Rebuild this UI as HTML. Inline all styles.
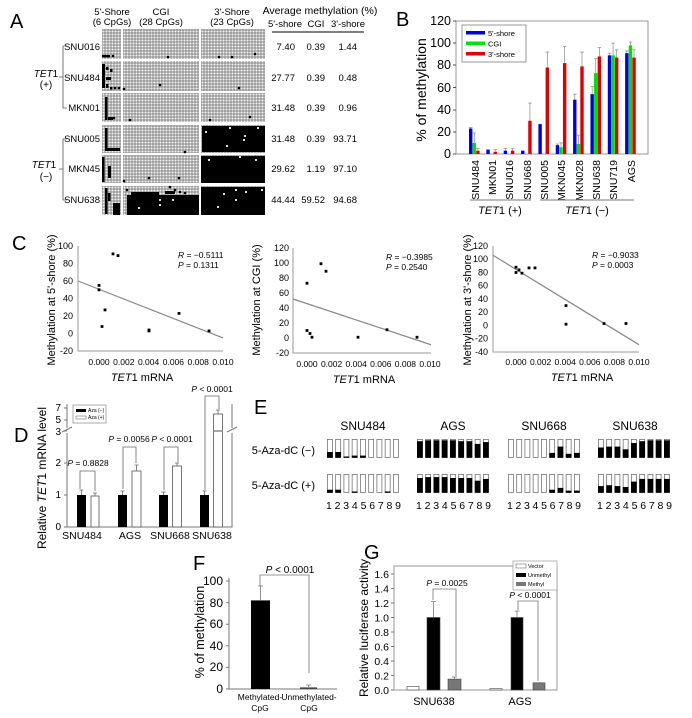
<!DOCTYPE html>
<html><head><meta charset="utf-8"><style>
html,body{margin:0;padding:0;background:#fff}
svg{display:block;font-family:"Liberation Sans",Arial,sans-serif}
</style></head><body>
<svg id="s" width="692" height="718" viewBox="0 0 692 718" xmlns="http://www.w3.org/2000/svg">
<defs>
<pattern id="pg" width="3" height="3" patternUnits="userSpaceOnUse"><rect width="3" height="3" fill="#9a9a9a"/><circle cx="1.5" cy="1.5" r="1.05" fill="#f2f2f2"/></pattern>
</defs>
<!-- ===== A ===== -->
<text x="10" y="28" font-size="20">A</text>
<g font-size="9.5" text-anchor="middle">
<text x="112" y="15">5'-Shore</text><text x="112" y="25">(6 CpGs)</text>
<text x="161" y="15">CGI</text><text x="161" y="25">(28 CpGs)</text>
<text x="232" y="15">3'-Shore</text><text x="232" y="25">(23 CpGs)</text>
<text x="320" y="14" font-size="10.5">Average methylation (%)</text>
<text x="285" y="27">5'-shore</text><text x="316" y="27">CGI</text><text x="348" y="27">3'-shore</text>
</g>
<line x1="272" y1="32" x2="364" y2="32" stroke="#000" stroke-width="1"/>
<g id="agrid"></g>
<g font-size="9.5" text-anchor="end">
<text x="100" y="50">SNU016</text><text x="100" y="81">SNU484</text><text x="100" y="111">MKN01</text>
<text x="100" y="142">SNU005</text><text x="100" y="172">MKN45</text><text x="100" y="203">SNU638</text>
</g>
<g stroke="#555" fill="none" stroke-width="0.8">
<path d="M67 46 H63 V108 H67 M63 77 H59"/>
<path d="M67 139 H63 V200 H67 M63 169 H59"/>
</g>
<g font-size="10" text-anchor="middle">
<text x="46" y="77"><tspan font-style="italic">TET</tspan>1</text><text x="46" y="88">(+)</text>
<text x="44" y="168"><tspan font-style="italic">TET</tspan>1</text><text x="46" y="180">(−)</text>
</g>
<g font-size="9.5" text-anchor="end">
<text x="295" y="50">7.40</text><text x="325" y="50">0.39</text><text x="357" y="50">1.44</text>
<text x="295" y="81">27.77</text><text x="325" y="81">0.39</text><text x="357" y="81">0.48</text>
<text x="295" y="111">31.48</text><text x="325" y="111">0.39</text><text x="357" y="111">0.96</text>
<text x="295" y="142">31.48</text><text x="325" y="142">0.39</text><text x="357" y="142">93.71</text>
<text x="295" y="172">29.62</text><text x="325" y="172">1.19</text><text x="357" y="172">97.10</text>
<text x="295" y="203">44.44</text><text x="325" y="203">59.52</text><text x="357" y="203">94.68</text>
</g>

<!-- ===== B ===== -->
<text x="396" y="26" font-size="20">B</text>
<rect x="456" y="21" width="192" height="133" fill="none" stroke="#999" stroke-width="1"/>
<g font-size="12.5" text-anchor="end">
<text x="451" y="158">0</text><text x="451" y="136">20</text><text x="451" y="114">40</text><text x="451" y="92">60</text><text x="451" y="69">80</text><text x="451" y="47">100</text><text x="451" y="25">120</text>
</g>
<g stroke="#555"><path d="M453 154H456M453 132H456M453 110H456M453 87.5H456M453 65H456M453 43H456M453 21H456"/></g>
<text transform="translate(426,90) rotate(-90)" font-size="14" text-anchor="middle">% of methylation</text>
<g id="bbars"></g>
<rect x="462" y="25" width="64" height="37" fill="#fff" stroke="#999"/>
<rect x="466" y="31" width="19" height="3.5" fill="#0000e0"/><rect x="466" y="41.5" width="19" height="3.5" fill="#00e000"/><rect x="466" y="52" width="19" height="3.5" fill="#e00000"/>
<g font-size="7.5"><text x="488" y="36">5'-shore</text><text x="488" y="46.5">CGI</text><text x="488" y="57">3'-shore</text></g>
<g font-size="10.5" text-anchor="end">
<text transform="translate(479,160) rotate(-90)">SNU484</text>
<text transform="translate(496,160) rotate(-90)">MKN01</text>
<text transform="translate(513,160) rotate(-90)">SNU016</text>
<text transform="translate(531,160) rotate(-90)">SNU668</text>
<text transform="translate(548,160) rotate(-90)">SNU005</text>
<text transform="translate(565,160) rotate(-90)">MKN045</text>
<text transform="translate(583,160) rotate(-90)">MKN028</text>
<text transform="translate(600,160) rotate(-90)">SNU638</text>
<text transform="translate(617,160) rotate(-90)">SNU719</text>
<text transform="translate(635,160) rotate(-90)">AGS</text>
</g>
<path d="M470 200H531M540 200H634" stroke="#777"/>
<g font-size="11" text-anchor="middle"><text x="500" y="214"><tspan font-style="italic">TET</tspan>1 (+)</text><text x="587" y="214"><tspan font-style="italic">TET</tspan>1 (−)</text></g>

<!-- ===== C ===== -->
<text x="12" y="250" font-size="20">C</text>
<g fill="none" stroke="#999">
<path d="M78 246V351H223"/>
<path d="M293 248V353H431"/>
<path d="M493 246V352H639"/>
</g>
<g stroke="#888" stroke-width="1.2">
<line x1="78" y1="281" x2="223" y2="337.9"/>
<line x1="293" y1="299" x2="431" y2="344.75"/>
<line x1="493" y1="255.3" x2="639" y2="344.7"/>
</g>
<g id="cpts"></g>
<g font-size="9" text-anchor="end">
<text x="73" y="249">100</text><text x="73" y="266.5">80</text><text x="73" y="284">60</text><text x="73" y="301.5">40</text><text x="73" y="319">20</text><text x="73" y="336.5">0</text><text x="73" y="354">-20</text>
<text x="289" y="251">120</text><text x="289" y="266">100</text><text x="289" y="281">80</text><text x="289" y="296">60</text><text x="289" y="311">40</text><text x="289" y="326">20</text><text x="289" y="341">0</text><text x="289" y="356">-20</text>
<text x="488" y="249">120</text><text x="488" y="262.2">100</text><text x="488" y="275.5">80</text><text x="488" y="288.7">60</text><text x="488" y="302">40</text><text x="488" y="315.2">20</text><text x="488" y="328.5">0</text><text x="488" y="341.7">-20</text><text x="488" y="355">-40</text>
</g>
<g font-size="8.5" text-anchor="middle">
<text x="99" y="365">0.000</text><text x="123.8" y="365">0.002</text><text x="148.6" y="365">0.004</text><text x="173.4" y="365">0.006</text><text x="198.2" y="365">0.008</text><text x="223" y="365">0.010</text>
<text x="307" y="367">0.000</text><text x="331.6" y="367">0.002</text><text x="356.2" y="367">0.004</text><text x="380.8" y="367">0.006</text><text x="405.4" y="367">0.008</text><text x="430" y="367">0.010</text>
<text x="516" y="365">0.000</text><text x="540.6" y="365">0.002</text><text x="565.2" y="365">0.004</text><text x="589.8" y="365">0.006</text><text x="614.4" y="365">0.008</text><text x="639" y="365">0.010</text>
</g>
<g font-size="11" text-anchor="middle">
<text x="142" y="381"><tspan font-style="italic">TET</tspan>1 mRNA</text>
<text x="364" y="383"><tspan font-style="italic">TET</tspan>1 mRNA</text>
<text x="582" y="381"><tspan font-style="italic">TET</tspan>1 mRNA</text>
<text transform="translate(55,300) rotate(-90)">Methylation at 5'-shore (%)</text>
<text transform="translate(260,300) rotate(-90)">Methylation at CGI (%)</text>
<text transform="translate(471,300) rotate(-90)">Methylation at 3'-shore (%)</text>
</g>
<g font-size="8.5">
<text x="178" y="258"><tspan font-style="italic">R</tspan> = −0.5111</text><text x="178" y="268"><tspan font-style="italic">P</tspan> = 0.1311</text>
<text x="386" y="260"><tspan font-style="italic">R</tspan> = −0.3985</text><text x="386" y="270"><tspan font-style="italic">P</tspan> = 0.2540</text>
<text x="592" y="258"><tspan font-style="italic">R</tspan> = −0.9033</text><text x="592" y="268"><tspan font-style="italic">P</tspan> = 0.0003</text>
</g>

<!-- ===== D ===== -->
<text x="14" y="442" font-size="20">D</text>
<g stroke="#777" fill="none">
<path d="M67 404V428M67 433V527H232V433M232 428V404"/>
<path d="M62 432L72 427M227 432L237 427"/>
<path d="M64 527H67M64 495H67M64 463H67M64 431H67M64 420H67M64 408H67"/>
</g>
<g font-size="10" text-anchor="end">
<text x="61" y="530">0</text><text x="61" y="498">1</text><text x="61" y="466">2</text><text x="61" y="435">3</text><text x="61" y="423">5</text><text x="61" y="411">7</text>
</g>
<text transform="translate(46,478) rotate(-90)" font-size="12" text-anchor="middle">Relative <tspan font-style="italic">TET</tspan>1 mRNA level</text>
<g fill="#000">
<rect x="77" y="495" width="9" height="32"/><rect x="118" y="495" width="9" height="32"/><rect x="159" y="495" width="9" height="32"/><rect x="200" y="495" width="9" height="32"/>
</g>
<g fill="#fff" stroke="#555" stroke-width="0.8">
<rect x="91" y="496" width="8" height="31"/><rect x="132" y="471" width="9" height="56"/><rect x="172.5" y="466" width="9" height="61"/><rect x="213.5" y="414" width="9" height="113"/>
</g>
<line x1="213" y1="431" x2="223" y2="431" stroke="#888" stroke-width="1.5"/>
<g stroke="#666" stroke-width="0.8" fill="none">
<path d="M81.5 495V490M79.5 490H83.5M95 496V493M93 493H97M122.5 495V491M120.5 491H124.5M136.5 471V465M134.5 465H138.5M163.5 495V492M161.5 492H165.5M177 466V463M175 463H179M204.5 495V491M202.5 491H206.5M218 414V410M216 410H220"/>
<path d="M80 489V471H95V491M123 489V447H136V463M164 490V447H178V462M205 490V396H219V409"/>
</g>
<g font-size="8.5" text-anchor="middle">
<text x="88" y="466"><tspan font-style="italic">P</tspan> = 0.8828</text>
<text x="129" y="442"><tspan font-style="italic">P</tspan> = 0.0056</text>
<text x="172" y="442"><tspan font-style="italic">P</tspan> &lt; 0.0001</text>
<text x="212" y="392"><tspan font-style="italic">P</tspan> &lt; 0.0001</text>
</g>
<rect x="73" y="405" width="33" height="18" fill="#fff" stroke="#888" stroke-width="0.7"/>
<rect x="76" y="409" width="10" height="3" fill="#000"/><rect x="76" y="416" width="10" height="3" fill="#fff" stroke="#555" stroke-width="0.5"/>
<g font-size="5"><text x="88" y="412">Aza (−)</text><text x="88" y="419">Aza (+)</text></g>
<g font-size="10.5" text-anchor="middle">
<text x="82" y="539">SNU484</text><text x="130" y="539">AGS</text><text x="170" y="539">SNU668</text><text x="212" y="539">SNU638</text>
</g>

<!-- ===== E ===== -->
<text x="254" y="414" font-size="20">E</text>
<g font-size="12" text-anchor="middle">
<text x="363" y="430">SNU484</text><text x="453" y="430">AGS</text><text x="544" y="430">SNU668</text><text x="635" y="430">SNU638</text>
</g>
<g font-size="11" text-anchor="end"><text x="315" y="454">5-Aza-dC (−)</text><text x="315" y="489">5-Aza-dC (+)</text></g>
<g id="ebars"></g>
<g font-size="10.5">
<text x="326" y="509" textLength="75">123456789</text>
<text x="416" y="509" textLength="75">123456789</text>
<text x="507" y="509" textLength="74">123456789</text>
<text x="597" y="509" textLength="75">123456789</text>
</g>

<!-- ===== F ===== -->
<text x="193" y="570" font-size="20">F</text>
<g stroke="#777" fill="none"><path d="M229 578V689H337M226 689H229M226 667.4H229M226 645.8H229M226 624.2H229M226 602.6H229M226 581H229"/></g>
<g font-size="12" text-anchor="end">
<text x="223" y="693">0</text><text x="223" y="671">20</text><text x="223" y="650">40</text><text x="223" y="628">60</text><text x="223" y="607">80</text><text x="223" y="585">100</text>
</g>
<text transform="translate(204,632) rotate(-90)" font-size="12.5" text-anchor="middle">% of methylation</text>
<rect x="251" y="600.4" width="19" height="88.6" fill="#000"/>
<rect x="300" y="687.4" width="17" height="1.6" fill="#444"/>
<g stroke="#777" fill="none" stroke-width="0.8"><path d="M260.5 600V586M258 586H263M308.5 687V685M306 685H311M260 586V575H309V673"/></g>
<text x="290" y="573" font-size="10" text-anchor="middle"><tspan font-style="italic">P</tspan> &lt; 0.0001</text>
<g font-size="8.5" text-anchor="middle"><text x="260" y="700">Methylated-</text><text x="260" y="711">CpG</text><text x="309" y="700">Unmethylated-</text><text x="309" y="711">CpG</text></g>

<!-- ===== G ===== -->
<text x="364" y="559" font-size="20">G</text>
<rect x="394" y="566" width="163" height="124" fill="none" stroke="#999"/>
<g stroke="#777"><path d="M391 690H394M391 675.5H394M391 661H394M391 646.5H394M391 632H394M391 617.5H394M391 603H394M391 588.5H394M391 574H394"/></g>
<g font-size="10.5" text-anchor="end">
<text x="389" y="694">0.0</text><text x="389" y="679.5">0.2</text><text x="389" y="665">0.4</text><text x="389" y="650.5">0.6</text><text x="389" y="636">0.8</text><text x="389" y="621.5">1.0</text><text x="389" y="607">1.2</text><text x="389" y="592.5">1.4</text><text x="389" y="578">1.6</text>
</g>
<text transform="translate(368,628) rotate(-90)" font-size="12" text-anchor="middle">Relative luciferase activity</text>
<g stroke="#444" stroke-width="0.6">
<rect x="407" y="686.4" width="12" height="3.6" fill="#fff"/>
<rect x="427" y="617.5" width="13" height="72.5" fill="#000"/>
<rect x="448" y="679.1" width="13" height="10.9" fill="#777"/>
<rect x="490" y="688.6" width="12" height="1.4" fill="#fff"/>
<rect x="511" y="617.5" width="12" height="72.5" fill="#000"/>
<rect x="533" y="682.8" width="12" height="7.2" fill="#777"/>
</g>
<g stroke="#777" fill="none" stroke-width="0.8">
<path d="M433.5 617V601.6M431 601.6H436M454.5 679V677M452 677H457M517 617V611M514.5 611H519.5M539 683V682M433 600V589H456V676M518 610V601H538V681"/>
</g>
<g font-size="8.5" text-anchor="middle"><text x="447" y="586"><tspan font-style="italic">P</tspan> = 0.0025</text><text x="530" y="598"><tspan font-style="italic">P</tspan> &lt; 0.0001</text></g>
<rect x="513" y="561" width="44" height="29" fill="#fff" stroke="#999" stroke-width="0.7"/>
<rect x="516" y="564" width="10" height="4" fill="#fff" stroke="#555" stroke-width="0.5"/><rect x="516" y="573" width="10" height="4" fill="#000"/><rect x="516" y="582" width="10" height="4" fill="#777"/>
<g font-size="5.5"><text x="528" y="568">Vector</text><text x="528" y="577">Unmethyl</text><text x="528" y="586">Methyl</text></g>
<g font-size="11" text-anchor="middle"><text x="434" y="705">SNU638</text><text x="520" y="705">AGS</text></g>
</svg>
<script>
(function(){
var NS="http://www.w3.org/2000/svg";
function el(p,t,a){var e=document.createElementNS(NS,t);for(var k in a)e.setAttribute(k,a[k]);p.appendChild(e);return e;}
var ag=document.getElementById('agrid');
var rows=[[29,30],[61,30],[93,29],[125,28],[155,28],[186,29]];
var cols=[[102,19],[123,76],[201,64]];
rows.forEach(function(r){cols.forEach(function(c){el(ag,'rect',{x:c[0],y:r[0],width:c[1],height:r[1],fill:'url(#pg)'});});});
var blk=[[102,55,8,2.5],[202,126,63,26],[201,156,64,27],[201,187,64,28],
[102,64,3,24],[106,67,2.5,3],[110,69,2.5,3],[106,77,5,3],[106,84,2.5,4],[110,87,2.5,2.5],
[105,97,2.5,23],[108,117,5,3],
[105,128,2.5,20],[105,148,15,3],
[102,157,2.5,25],[108,166,3,12],
[105,188,2.5,26],[108,193,2.5,8],[113,203,7,12],
[127,195,72,20],[131,192,28,3],[165,191,10,3]];
blk.forEach(function(b){el(ag,'rect',{x:b[0],y:b[1],width:b[2],height:b[3],fill:'#000'});});
var dots=[[113,56],[168,57],[219,57],[232,57],[255,54],[115,88],[119,88],[160,85],[124,89],[239,88],[114,118],[130,120],[210,120],[250,117],[185,152],[124,181],[149,178],[179,178],[127,190],[170,187],[175,190],[180,192],[185,193]];
dots.forEach(function(d){el(ag,'circle',{cx:d[0],cy:d[1],r:1.3,fill:'#000'});});
var wd=[[206,132],[230,128],[244,140],[245,136],[258,128],[227,146],[209,160],[240,157],[256,160],[224,194],[236,190],[236,200],[246,192],[262,190],[218,207],[160,200],[160,205],[173,200],[139,208]];
wd.forEach(function(d){el(ag,'rect',{x:d[0]-1,y:d[1]-1,width:2,height:2,fill:'#ddd'});});
var bb=document.getElementById('bbars');
var data=[[23,24,10,19,3,5],[4,4,0,0,2,4],[3,5,0,0,3,5],[3,3,0,0,30,46],[27,27,0,0,78,92],[8,9,6,10,82,97],[49,54,9,17,79,92],[54,61,73,86,88,96],[89,91,89,100,87,94],[91,93,98,101,87,94]];
var colr=['#0000e0','#00e000','#e00000'];
function yb(v){return 154-v*133/120;}
data.forEach(function(d,i){var c=475+i*17.35;
for(var j=0;j<3;j++){var v=d[2*j],e=d[2*j+1],x=c-6+j*3.6;
if(e>v){el(bb,'line',{x1:x+1.7,y1:yb(v),x2:x+1.7,y2:yb(e),stroke:'#888','stroke-width':0.7});el(bb,'line',{x1:x,y1:yb(e),x2:x+3.5,y2:yb(e),stroke:'#888','stroke-width':0.7});}
if(v>0)el(bb,'rect',{x:x,y:yb(v),width:3.4,height:v*133/120,fill:colr[j]});}});
var cp=document.getElementById('cpts');
var pts=[[99,285.4],[99,289.8],[105,309.9],[102,326.5],[113,253.9],[118,255.6],[149,330],[149,330.9],[179,313.4],[209,330.9],
[307,283.25],[307,330.5],[310,333.5],[312,337.25],[321,263.75],[326,271.25],[358,337.25],[387,329.75],[417,337.25],
[516,267.2],[516,272.5],[519,269.9],[522,273.2],[529,267.9],[535,267.9],[566,305.6],[566,324.2],[604,323.5],[626,323.5]];
pts.forEach(function(p){el(cp,'rect',{x:p[0]-1.4,y:p[1]-1.4,width:2.8,height:2.8,fill:'#000'});});
var eb=document.getElementById('ebars');
var E=[[327,[.3,.3,.05,.1,.1,0,0,0,0],[.15,.15,0,.05,0,0,0,.05,0]],
[417,[.9,.95,.95,.95,.95,.9,.9,.75,.85],[.8,.85,.85,.85,.8,.8,.8,.65,.75]],
[508,[0,0,0,0,0,.25,.6,.2,.25],[0,0,0,0,0,.15,.25,.1,.1]],
[598,[.55,.6,.6,.45,.8,.9,.95,.95,.95],[.35,.4,.35,.3,.6,.75,.75,.75,.75]]];
E.forEach(function(g){[[439,g[1]],[474,g[2]]].forEach(function(r){
for(var i=0;i<9;i++){var x=g[0]+i*8.25,h=18;
el(eb,'rect',{x:x+0.4,y:r[0]+0.4,width:5,height:h,fill:'#fff',stroke:'#777','stroke-width':0.8});
var f=r[1][i];if(f>0)el(eb,'rect',{x:x,y:r[0]+h*(1-f)+0.4,width:5.8,height:h*f+0.4,fill:'#000'});}});});
})();
</script>
</body></html>
